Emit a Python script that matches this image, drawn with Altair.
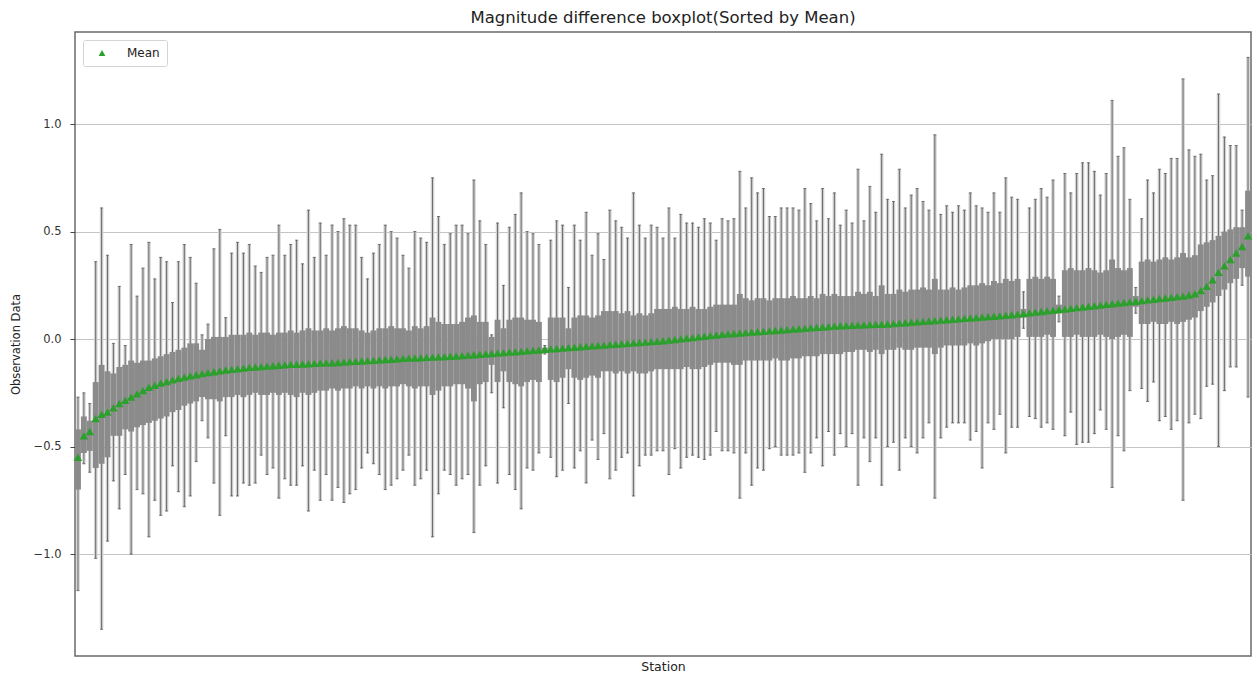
import altair as alt
import pandas as pd

# Per-station statistics of the magnitude difference, stations sorted by mean.
means = [
    -0.55, -0.45, -0.43, -0.37, -0.35, -0.34, -0.32, -0.30, -0.285, -0.27,
    -0.255, -0.24, -0.225, -0.215, -0.205, -0.198, -0.19, -0.183, -0.177, -0.171,
    -0.166, -0.161, -0.156, -0.152, -0.148, -0.144, -0.141, -0.138, -0.135, -0.132,
    -0.13, -0.128, -0.126, -0.124, -0.122, -0.12, -0.118, -0.117, -0.116, -0.115,
    -0.113, -0.112, -0.111, -0.11, -0.109, -0.107, -0.105, -0.104, -0.102, -0.1,
    -0.099, -0.097, -0.095, -0.094, -0.092, -0.09, -0.089, -0.088, -0.087, -0.085,
    -0.084, -0.083, -0.082, -0.08, -0.079, -0.077, -0.075, -0.073, -0.071, -0.069,
    -0.067, -0.065, -0.063, -0.061, -0.059, -0.057, -0.055, -0.053, -0.051, -0.048,
    -0.046, -0.044, -0.042, -0.04, -0.038, -0.036, -0.034, -0.032, -0.03, -0.028,
    -0.026, -0.024, -0.022, -0.02, -0.018, -0.016, -0.014, -0.012, -0.01, -0.008,
    -0.005, -0.002, 0.001, 0.004, 0.007, 0.01, 0.013, 0.016, 0.019, 0.022,
    0.024, 0.026, 0.028, 0.03, 0.032, 0.034, 0.036, 0.038, 0.04, 0.042,
    0.044, 0.046, 0.048, 0.05, 0.052, 0.054, 0.056, 0.058, 0.06, 0.062,
    0.063, 0.064, 0.065, 0.066, 0.067, 0.068, 0.069, 0.07, 0.072, 0.074,
    0.076, 0.078, 0.08, 0.082, 0.084, 0.086, 0.088, 0.09, 0.092, 0.094,
    0.096, 0.098, 0.1, 0.102, 0.104, 0.106, 0.108, 0.11, 0.113, 0.116,
    0.119, 0.122, 0.125, 0.128, 0.131, 0.134, 0.137, 0.14, 0.143, 0.146,
    0.149, 0.152, 0.155, 0.158, 0.161, 0.164, 0.167, 0.17, 0.173, 0.176,
    0.179, 0.182, 0.185, 0.188, 0.191, 0.194, 0.197, 0.2, 0.205, 0.21,
    0.225, 0.245, 0.275, 0.31, 0.34, 0.37, 0.40, 0.43, 0.48,
]

q3 = [
    -0.42, -0.36, -0.38, -0.20, -0.12, -0.15, -0.16, -0.13, -0.12, -0.10,
    -0.11, -0.10, -0.10, -0.09, -0.08, -0.07, -0.06, -0.05, -0.04, -0.02,
    -0.02, -0.05, 0.0, 0.01, 0.01, 0.01, 0.02, 0.02, 0.02, 0.03,
    0.02, 0.03, 0.03, 0.02, 0.03, 0.03, 0.04, 0.03, 0.04, 0.05,
    0.04, 0.04, 0.05, 0.04, 0.05, 0.06, 0.05, 0.05, 0.04, 0.03,
    0.04, 0.05, 0.05, 0.06, 0.05, 0.05, 0.04, 0.06, 0.05, 0.06,
    0.10, 0.08, 0.07, 0.07, 0.07, 0.08, 0.10, 0.11, 0.08, 0.08,
    0.01, 0.09, 0.05, 0.09, 0.10, 0.10, 0.09, 0.09, 0.08, -0.04,
    0.10, 0.10, 0.10, 0.05, 0.10, 0.11, 0.11, 0.10, 0.11, 0.13,
    0.13, 0.13, 0.12, 0.13, 0.11, 0.12, 0.11, 0.12, 0.14, 0.14,
    0.14, 0.15, 0.14, 0.14, 0.15, 0.14, 0.14, 0.15, 0.16, 0.16,
    0.16, 0.16, 0.21, 0.19, 0.18, 0.19, 0.19, 0.18, 0.19, 0.19,
    0.19, 0.20, 0.19, 0.19, 0.20, 0.19, 0.21, 0.20, 0.21, 0.20,
    0.20, 0.20, 0.22, 0.21, 0.22, 0.20, 0.25, 0.21, 0.21, 0.23,
    0.22, 0.23, 0.23, 0.24, 0.23, 0.28, 0.23, 0.23, 0.24, 0.23,
    0.24, 0.25, 0.25, 0.26, 0.25, 0.27, 0.26, 0.28, 0.27, 0.28,
    0.14, 0.28, 0.29, 0.28, 0.29, 0.28, 0.16, 0.32, 0.33, 0.32,
    0.32, 0.33, 0.32, 0.31, 0.32, 0.37, 0.33, 0.32, 0.33, 0.20,
    0.36, 0.37, 0.36, 0.37, 0.38, 0.37, 0.38, 0.40, 0.38, 0.39,
    0.44, 0.45, 0.46, 0.48, 0.50, 0.51, 0.52, 0.52, 0.69,
]

q1 = [
    -0.70, -0.53, -0.52, -0.60, -0.58, -0.55, -0.45, -0.45, -0.42, -0.43,
    -0.41, -0.40, -0.39, -0.38, -0.37, -0.36, -0.34, -0.33, -0.31, -0.30,
    -0.29, -0.27, -0.28, -0.28, -0.29, -0.27, -0.27, -0.26, -0.27, -0.26,
    -0.25, -0.26, -0.26, -0.25, -0.26, -0.25, -0.26, -0.27, -0.25, -0.26,
    -0.25, -0.24, -0.24, -0.23, -0.24, -0.23, -0.23, -0.22, -0.23, -0.22,
    -0.23, -0.22, -0.23, -0.22, -0.22, -0.21, -0.22, -0.23, -0.22, -0.22,
    -0.26, -0.24, -0.22, -0.22, -0.21, -0.21, -0.23, -0.29, -0.21, -0.20,
    -0.12, -0.20, -0.15, -0.20, -0.21, -0.22, -0.20, -0.19, -0.20, -0.06,
    -0.19, -0.20, -0.18, -0.14, -0.18, -0.19, -0.18, -0.17, -0.18, -0.15,
    -0.15, -0.16, -0.15, -0.16, -0.15, -0.16, -0.16, -0.15, -0.14, -0.14,
    -0.14, -0.14, -0.14, -0.13, -0.14, -0.14, -0.13, -0.12, -0.11, -0.11,
    -0.11, -0.12, -0.12, -0.10, -0.10, -0.10, -0.10, -0.10, -0.09, -0.10,
    -0.10, -0.09, -0.09, -0.08, -0.08, -0.08, -0.07, -0.07, -0.07, -0.07,
    -0.06, -0.06, -0.05, -0.05, -0.06, -0.05, -0.07, -0.05, -0.05, -0.04,
    -0.05, -0.05, -0.04, -0.04, -0.04, -0.07, -0.04, -0.03, -0.03, -0.03,
    -0.03, -0.02, -0.03, -0.02, -0.01, 0.0, 0.0, 0.0, 0.0, 0.01,
    0.10, 0.01, 0.01, 0.01, 0.02, 0.01, 0.12, 0.01, 0.01, 0.02,
    0.01, 0.01, 0.01, 0.02, 0.01, 0.0, 0.01, 0.02, 0.01, 0.15,
    0.07, 0.07, 0.08, 0.07, 0.07, 0.08, 0.07, 0.08, 0.09, 0.10,
    0.13, 0.15, 0.17, 0.20, 0.23, 0.26, 0.28, 0.33, 0.29,
]

whisker_hi = [
    -0.27, -0.25, -0.30, 0.36, 0.61, 0.39, -0.02, 0.245, -0.03, 0.44,
    0.20, 0.33, 0.45, 0.28, 0.38, 0.36, 0.17, 0.36, 0.44, 0.38,
    0.26, 0.02, 0.07, 0.42, 0.51, 0.10, 0.40, 0.45, 0.40, 0.44,
    0.34, 0.31, 0.38, 0.39, 0.53, 0.39, 0.44, 0.46, 0.35, 0.60,
    0.38, 0.54, 0.39, 0.53, 0.50, 0.56, 0.53, 0.53, 0.38, 0.28,
    0.40, 0.44, 0.53, 0.50, 0.47, 0.39, 0.33, 0.50, 0.47, 0.45,
    0.75, 0.57, 0.44, 0.49, 0.53, 0.53, 0.49, 0.74, 0.55, 0.44,
    0.02, 0.54, 0.25, 0.52, 0.58, 0.68, 0.50, 0.49, 0.44, -0.03,
    0.46, 0.55, 0.53, 0.24, 0.53, 0.46, 0.59, 0.39, 0.49, 0.37,
    0.60, 0.55, 0.52, 0.47, 0.68, 0.53, 0.47, 0.53, 0.52, 0.47,
    0.61, 0.47, 0.58, 0.54, 0.54, 0.52, 0.56, 0.54, 0.46, 0.56,
    0.55, 0.56, 0.78, 0.61, 0.75, 0.68, 0.70, 0.57, 0.57, 0.61,
    0.61, 0.61, 0.60, 0.70, 0.63, 0.55, 0.70, 0.56, 0.68, 0.53,
    0.60, 0.54, 0.79, 0.55, 0.71, 0.59, 0.86, 0.65, 0.64, 0.79,
    0.61, 0.67, 0.70, 0.64, 0.60, 0.95, 0.58, 0.62, 0.59, 0.62,
    0.60, 0.68, 0.62, 0.61, 0.59, 0.68, 0.59, 0.75, 0.66, 0.65,
    0.22, 0.61, 0.65, 0.70, 0.66, 0.74, 0.20, 0.77, 0.68, 0.77,
    0.82, 0.82, 0.78, 0.67, 0.77, 1.11, 0.85, 0.89, 0.65, 0.24,
    0.56, 0.74, 0.68, 0.79, 0.77, 0.84, 0.84, 1.21, 0.88, 0.85,
    0.86, 0.74, 0.76, 1.14, 0.94, 0.90, 0.90, 0.60, 1.31,
]

whisker_lo = [
    -1.17, -0.58, -0.62, -1.02, -1.35, -0.94, -0.66, -0.79, -0.63, -1.00,
    -0.70, -0.72, -0.92, -0.75, -0.82, -0.80, -0.59, -0.71, -0.78, -0.73,
    -0.57, -0.38, -0.46, -0.67, -0.82, -0.45, -0.73, -0.73, -0.67, -0.68,
    -0.67, -0.54, -0.63, -0.60, -0.74, -0.65, -0.68, -0.68, -0.59, -0.80,
    -0.61, -0.75, -0.63, -0.75, -0.69, -0.76, -0.72, -0.70, -0.60, -0.53,
    -0.58, -0.63, -0.70, -0.68, -0.65, -0.61, -0.54, -0.68, -0.65, -0.61,
    -0.92, -0.72, -0.61, -0.63, -0.68, -0.65, -0.63, -0.90, -0.68, -0.59,
    -0.25, -0.67, -0.32, -0.63, -0.70, -0.79, -0.60, -0.61, -0.53, -0.07,
    -0.55, -0.64, -0.61, -0.30, -0.60, -0.52, -0.67, -0.47, -0.56, -0.44,
    -0.65, -0.61, -0.55, -0.53, -0.73, -0.59, -0.54, -0.54, -0.52, -0.52,
    -0.63, -0.51, -0.60, -0.55, -0.54, -0.55, -0.56, -0.54, -0.43, -0.52,
    -0.52, -0.53, -0.74, -0.53, -0.68, -0.60, -0.61, -0.51, -0.50, -0.54,
    -0.54, -0.54, -0.53, -0.62, -0.53, -0.46, -0.59, -0.43, -0.54, -0.44,
    -0.50, -0.44, -0.68, -0.46, -0.57, -0.46, -0.68, -0.50, -0.48, -0.61,
    -0.46, -0.50, -0.53, -0.46, -0.39, -0.74, -0.46, -0.41, -0.39, -0.39,
    -0.39, -0.47, -0.43, -0.60, -0.39, -0.42, -0.35, -0.53, -0.41, -0.41,
    0.05, -0.36, -0.37, -0.41, -0.39, -0.42, 0.08, -0.45, -0.34, -0.49,
    -0.48, -0.48, -0.44, -0.33, -0.42, -0.69, -0.45, -0.52, -0.24, 0.12,
    -0.23, -0.29, -0.20, -0.38, -0.36, -0.42, -0.38, -0.75, -0.39, -0.35,
    -0.37, -0.22, -0.21, -0.50, -0.24, -0.13, -0.13, 0.25, -0.27,
]

n = len(means)
assert all(len(s) == n for s in (q3, q1, whisker_hi, whisker_lo))

df = pd.DataFrame({
    "station": list(range(1, n + 1)),
    "mean": means,
    "q1": q1,
    "q3": q3,
    "lo": whisker_lo,
    "hi": whisker_hi,
    "label": ["Mean"] * n,
})

FONT = "DejaVu Sans"
y_scale = alt.Scale(domain=[-1.474, 1.428], nice=False, zero=False)
x_enc = alt.X(
    "station:O",
    title="Station",
    scale=alt.Scale(paddingInner=0, paddingOuter=0),
    axis=alt.Axis(labels=False, ticks=False, domain=False, grid=False,
                  titlePadding=4, titleFontSize=12.5, titleFontWeight="normal",
                  titleFont=FONT, titleColor="#222"),
)
y_axis = alt.Axis(
    values=[-1.0, -0.5, 0.0, 0.5, 1.0], format=".1f",
    grid=True, gridColor="#c4c4c4", gridWidth=1,
    domain=False, tickSize=5, tickColor="#444", labelPadding=9,
    labelFont=FONT, labelFontSize=11.5, labelColor="#333",
    title="Observation Data", titleFont=FONT, titleFontSize=11.5,
    titleFontWeight="normal", titleColor="#222", titlePadding=12,
)

base = alt.Chart(df)

# whisker ranges: pale stripe with a darker line down its centre
stripes = base.mark_bar(color="#d2d2d2", width=alt.RelativeBandSize(0.6)).encode(
    x=x_enc,
    y=alt.Y("lo:Q", scale=y_scale, axis=y_axis),
    y2="hi:Q",
)

whiskers = base.mark_rule(color="#6c6c6c", strokeWidth=1).encode(
    x="station:O", y="lo:Q", y2="hi:Q",
)

caps_hi = base.mark_tick(color="#4a4a4a", size=3, thickness=1, orient="horizontal").encode(
    x="station:O", y="hi:Q",
)
caps_lo = base.mark_tick(color="#4a4a4a", size=3, thickness=1, orient="horizontal").encode(
    x="station:O", y="lo:Q",
)

# interquartile boxes, full band width so neighbours merge into one band
boxes = base.mark_bar(color="#8b8b8b", width=alt.RelativeBandSize(1.0)).encode(
    x="station:O", y="q1:Q", y2="q3:Q",
)

mean_pts = base.mark_point(shape="triangle-up", filled=True, size=72, opacity=1).encode(
    x="station:O",
    y="mean:Q",
    color=alt.Color(
        "label:N",
        scale=alt.Scale(domain=["Mean"], range=["#2ca02c"]),
        legend=alt.Legend(
            title=None, orient="top-left", offset=8, padding=7,
            symbolType="triangle-up", symbolSize=45, symbolStrokeWidth=0,
            symbolOffset=6,
            labelFont=FONT, labelFontSize=12, labelColor="#222", labelOffset=19,
            strokeColor="#d4d4d4", fillColor="white", cornerRadius=2,
            rowPadding=0,
        ),
    ),
)

chart = alt.layer(stripes, whiskers, caps_hi, caps_lo, boxes, mean_pts).properties(
    width=1176,
    height=624,
    autosize=alt.AutoSizeParams(type="none"),
    padding={"left": 75, "top": 32, "right": 6, "bottom": 18},
    background="white",
    title=alt.TitleParams(
        "Magnitude difference boxplot(Sorted by Mean)",
        font=FONT, fontSize=16.5, fontWeight="normal", color="#222",
        anchor="middle", offset=6,
    ),
).configure_view(
    stroke="#6a6a6a", strokeWidth=1.5,
)

chart.save("out.html", embed_options={"renderer": "svg", "actions": False})
